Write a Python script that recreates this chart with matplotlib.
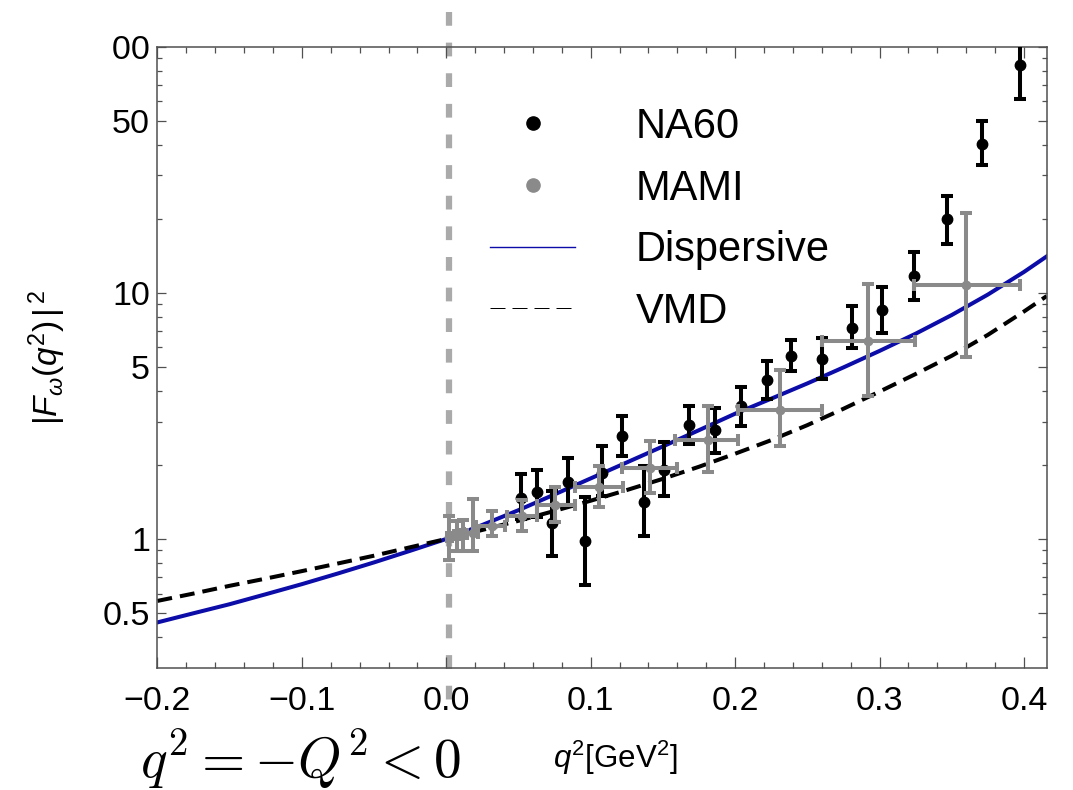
import matplotlib
matplotlib.use('Agg')
import numpy as np
import matplotlib.pyplot as plt
from matplotlib.lines import Line2D
from matplotlib.ticker import FixedLocator, FixedFormatter
from matplotlib.transforms import Bbox, TransformedBbox

plt.rcParams['font.family'] = ['Liberation Sans', 'DejaVu Sans']
plt.rcParams['mathtext.fontset'] = 'custom'
plt.rcParams['mathtext.rm'] = 'Liberation Sans'
plt.rcParams['mathtext.it'] = 'Liberation Sans:italic'

# model curves, |F(q^2)|^2 vs q^2 [GeV^2]
curve_q = [-0.2, -0.175, -0.15, -0.125, -0.1, -0.075, -0.05, -0.025, 0.0,
           0.025, 0.05, 0.075, 0.1, 0.125, 0.15, 0.175, 0.2, 0.225, 0.25,
           0.275, 0.3, 0.325, 0.35, 0.375, 0.4, 0.4157]
disp_F = [0.458, 0.499, 0.543, 0.596, 0.655, 0.724, 0.803, 0.895, 1.0,
          1.140, 1.309, 1.517, 1.762, 2.046, 2.377, 2.767, 3.228, 3.715, 4.285,
          4.977, 5.808, 6.823, 8.128, 9.840, 12.16, 14.06]
vmd_F = [0.56, 0.60, 0.645, 0.69, 0.74, 0.795, 0.855, 0.925, 1.0,
         1.088, 1.185, 1.30, 1.43, 1.58, 1.755, 1.965, 2.22, 2.52, 2.90,
         3.38, 3.97, 4.68, 5.55, 6.75, 8.4, 9.7]

# NA60: value with lower / upper end of error bar
na60_q = [0.052, 0.063, 0.073, 0.084, 0.096, 0.108, 0.122, 0.137, 0.151, 0.168, 0.186,
          0.204, 0.222, 0.239, 0.260, 0.281, 0.302, 0.324, 0.347, 0.371, 0.397]
na60_F = [1.47, 1.55, 1.16, 1.71, 0.98, 1.86, 2.62, 1.41, 1.91, 2.91, 2.76,
          3.46, 4.44, 5.56, 5.36, 7.2, 8.55, 11.7, 19.9, 40.4, 84.0]
na60_lo = [1.20, 1.23, 0.855, 1.38, 0.65, 1.49, 2.18, 1.03, 1.49, 2.42, 2.24,
           2.87, 3.72, 4.80, 4.47, 5.94, 6.88, 9.33, 15.8, 33.1, 61.2]
na60_hi = [1.83, 1.91, 1.56, 2.13, 1.48, 2.38, 3.17, 1.97, 2.48, 3.48, 3.41,
           4.15, 5.27, 6.42, 6.56, 8.8, 10.6, 14.7, 24.7, 50.0, 104.0]

# MAMI: bins in q^2 and value with error bar ends
mami_q = [0.0021, 0.0073, 0.0118, 0.0185, 0.0315, 0.0523, 0.0753, 0.106, 0.1407, 0.1811, 0.2312, 0.2918, 0.3598]
mami_qlo = [0.0005, 0.0050, 0.0090, 0.0120, 0.0206, 0.0419, 0.0627, 0.0892, 0.1215, 0.1584, 0.2021, 0.2600, 0.3235]
mami_qhi = [0.0040, 0.0095, 0.0145, 0.0222, 0.0407, 0.0627, 0.0892, 0.1226, 0.1596, 0.2023, 0.2600, 0.3247, 0.3969]
mami_F = [1.02, 1.04, 1.05, 1.06, 1.125, 1.236, 1.379, 1.627, 1.944, 2.533, 3.355, 6.40, 10.71]
mami_lo = [0.82, 0.89, 0.89, 0.89, 1.025, 1.074, 1.168, 1.344, 1.538, 1.866, 2.379, 3.80, 5.49]
mami_hi = [1.24, 1.18, 1.19, 1.45, 1.295, 1.435, 1.627, 1.986, 2.493, 3.459, 4.877, 10.81, 21.01]

ytick_vals = [0.5, 1, 5, 10, 50, 100]
ytick_labels = ['0.5', '1', '5', '10', '50', '']

BLUE = '#0c0ca8'
GRAY = '#8a8a8a'
FRAME = '#505050'

fig = plt.figure(figsize=(10.73, 7.90), dpi=100)
ax = fig.add_axes([0.1467, 0.1549, 0.8288, 0.7860])

ax.set_yscale('log')
ax.set_xlim(-0.2, 0.4157)
ax.set_ylim(0.3, 100)

# q^2 = 0 marker, runs past the frame
ax.plot([0.002, 0.002], [138, 0.22], color='#aaaaaa', lw=4.5, dashes=(2.2, 2.7),
        solid_capstyle='butt', dash_capstyle='butt', clip_on=False, zorder=1)

ax.plot(curve_q, disp_F, color=BLUE, lw=2.9, zorder=2)
ax.plot(curve_q, vmd_F, color='black', lw=2.9, dashes=(3.7, 2.0), zorder=2)

na60_F = np.array(na60_F)
ax.errorbar(na60_q, na60_F,
            yerr=[na60_F - np.array(na60_lo), np.array(na60_hi) - na60_F],
            fmt='o', color='black', ms=7.5, elinewidth=2.9, capsize=4.4,
            capthick=2.9, zorder=3)

mami_q = np.array(mami_q)
mami_F = np.array(mami_F)
ax.errorbar(mami_q, mami_F,
            xerr=[mami_q - np.array(mami_qlo), np.array(mami_qhi) - mami_q],
            yerr=[mami_F - np.array(mami_lo), np.array(mami_hi) - mami_F],
            fmt='o', color=GRAY, ms=6, elinewidth=2.9, capsize=4.6,
            capthick=2.9, zorder=4)

# frame and ticks
for s in ax.spines.values():
    s.set_color(FRAME)
    s.set_linewidth(1.1)
ax.xaxis.set_major_locator(FixedLocator(np.round(np.arange(-0.2, 0.41, 0.1), 2)))
ax.xaxis.set_minor_locator(FixedLocator(np.round(np.arange(-0.2, 0.42, 0.02), 2)))
ax.xaxis.set_major_formatter(FixedFormatter(['\u22120.2', '\u22120.1', '0.0', '0.1', '0.2', '0.3', '0.4']))
ax.yaxis.set_major_locator(FixedLocator(ytick_vals))
ax.yaxis.set_major_formatter(FixedFormatter(ytick_labels))
ax.yaxis.set_minor_locator(FixedLocator([0.4, 0.6, 0.7, 0.8, 0.9, 2, 3, 4, 6, 7, 8, 9,
                                         20, 30, 40, 60, 70, 80, 90]))
ax.yaxis.set_minor_formatter(FixedFormatter([]))
ax.tick_params(which='both', direction='in', top=True, right=True, color=FRAME,
               width=0.9, labelsize=24.5, labelcolor='black')
ax.tick_params(axis='x', which='major', length=7.8, pad=13)
ax.tick_params(axis='x', which='minor', length=4.3)
ax.tick_params(axis='y', which='major', length=6.5, pad=5.5)
ax.tick_params(axis='y', which='minor', length=3.4)

# label of the top tick, cut off at the left edge
top_lab = ax.annotate('100', xy=(0, 100), xycoords=('axes fraction', 'data'),
                      xytext=(-5.5, 0), textcoords='offset points',
                      ha='right', va='center_baseline', fontsize=24.5,
                      annotation_clip=False)
top_lab.set_clip_box(TransformedBbox(Bbox([[112.5 / 1073, 0], [1, 1]]), fig.transFigure))
top_lab.set_clip_on(True)

ax.set_ylabel(r'$|F_{\omega}(q^2)\,|^{\,2}$', fontsize=24)
ax.yaxis.set_label_coords(-0.101, 0.5)

fig.text(615 / 1073, 1 - 768 / 790, r'$q^2$[GeV$^2$]', fontsize=22.5,
         ha='center', va='baseline')
fig.text(140 / 1073, 1 - 778 / 790, r'$q^2=-Q^2<0$', fontsize=40,
         ha='left', va='baseline', math_fontfamily='cm')

handles = [
    Line2D([], [], ls='none', marker='o', color='black', ms=9.5),
    Line2D([], [], ls='none', marker='o', color=GRAY, ms=9.5),
    Line2D([], [], color=BLUE, lw=1.0),
    Line2D([], [], color='black', lw=0.72, dashes=(15, 7)),
]
ax.legend(handles, ['NA60', 'MAMI', 'Dispersive', 'VMD'], loc='upper left',
          bbox_to_anchor=(0.374, 0.903), frameon=False, fontsize=30,
          borderpad=0, borderaxespad=0, handlelength=2.04, handletextpad=1.45,
          labelspacing=0.52)

fig.savefig('out.png', dpi=100)
